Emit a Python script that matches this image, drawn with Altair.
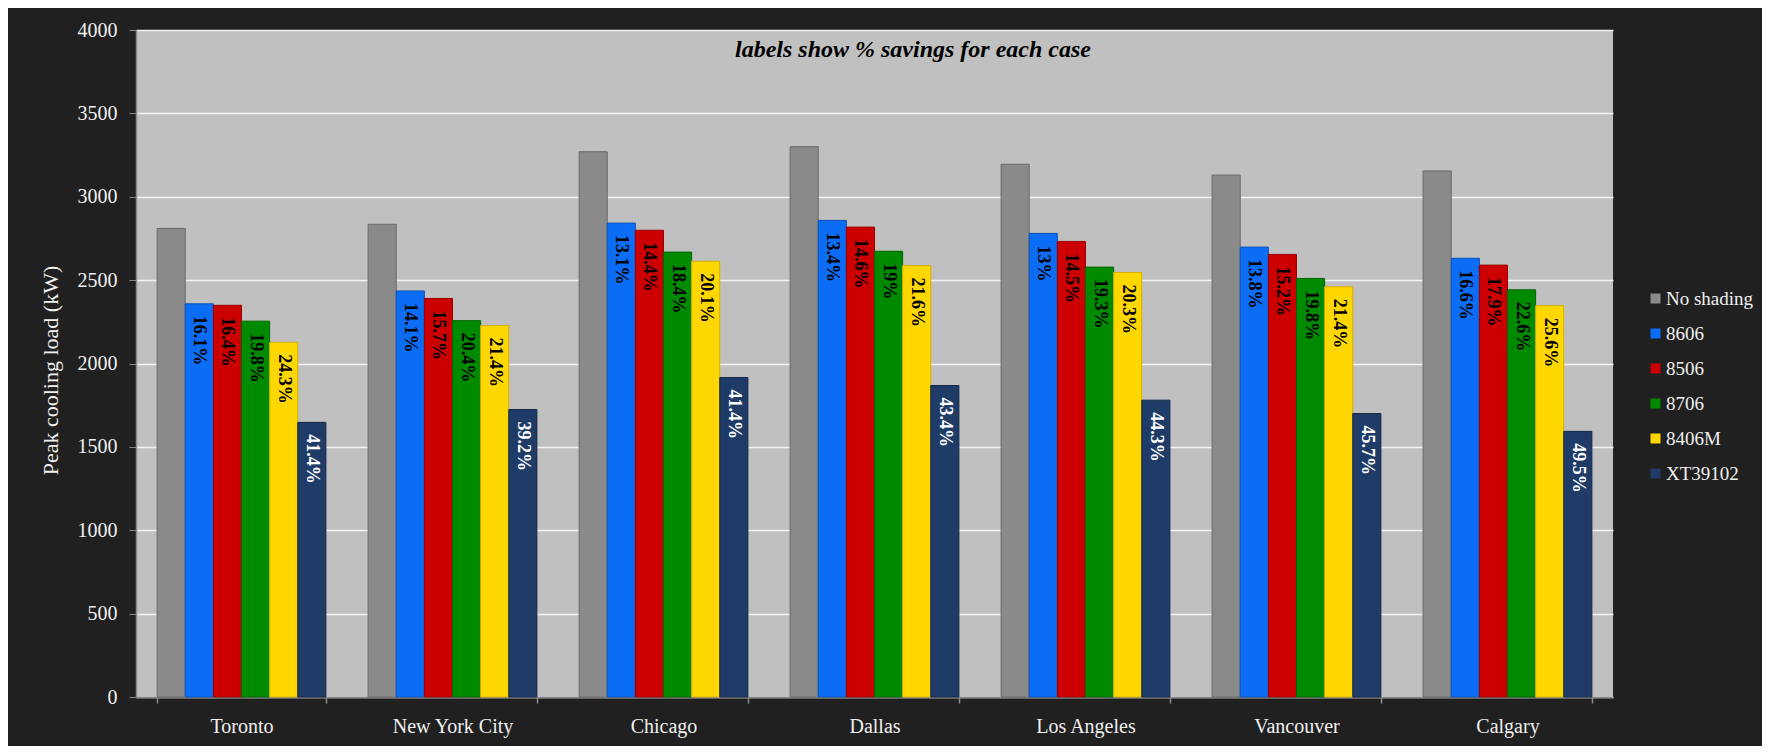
import altair as alt
import pandas as pd

cities = ["Toronto", "New York City", "Chicago", "Dallas", "Los Angeles", "Vancouver", "Calgary"]
series = ["No shading", "8606", "8506", "8706", "8406M", "XT39102"]

no_shading = [2810, 2835, 3270, 3300, 3195, 3130, 3155]
v8606 = [2358, 2435, 2842, 2858, 2780, 2698, 2631]
v8506 = [2349, 2390, 2799, 2818, 2732, 2654, 2590]
v8706 = [2254, 2257, 2668, 2673, 2578, 2510, 2442]
v8406m = [2127, 2228, 2613, 2587, 2546, 2460, 2347]
vxt39102 = [1647, 1724, 1916, 1868, 1780, 1700, 1593]

lab_none = ["", "", "", "", "", "", ""]
lab_8606 = ["16.1%", "14.1%", "13.1%", "13.4%", "13%", "13.8%", "16.6%"]
lab_8506 = ["16.4%", "15.7%", "14.4%", "14.6%", "14.5%", "15.2%", "17.9%"]
lab_8706 = ["19.8%", "20.4%", "18.4%", "19%", "19.3%", "19.8%", "22.6%"]
lab_8406m = ["24.3%", "21.4%", "20.1%", "21.6%", "20.3%", "21.4%", "25.6%"]
lab_xt39102 = ["41.4%", "39.2%", "41.4%", "43.4%", "44.3%", "45.7%", "49.5%"]

fill_colors = ["#8a8a8a", "#0b6df6", "#cc0000", "#008a00", "#ffd700", "#1f3c68"]
edge_colors = ["#6a6a6a", "#0a52b8", "#990000", "#006600", "#d4b000", "#15294a"]

note_text = ["labels show % savings for each case"]

value_lists = [no_shading, v8606, v8506, v8706, v8406m, vxt39102]
label_lists = [lab_none, lab_8606, lab_8506, lab_8706, lab_8406m, lab_xt39102]

rows = []
for s, vals, labs in zip(series, value_lists, label_lists):
    for c, v, l in zip(cities, vals, labs):
        rows.append({"city": c, "series": s, "load": v, "label": l})
df = pd.DataFrame(rows)
note_df = pd.DataFrame({"note": note_text})

FONT = "Liberation Serif"

x_enc = alt.X(
    "city:N",
    sort=cities,
    scale=alt.Scale(paddingInner=0.2, paddingOuter=0.1),
    axis=alt.Axis(
        title=None, labelAngle=0, tickBand="extent", labelFont=FONT,
        labelFontSize=20, labelColor="#f0f0f0", labelPadding=13,
        tickSize=6, tickColor="#8a8a8a", domainColor="#8a8a8a",
        domainWidth=1.5, tickWidth=1.5, grid=False,
    ),
)
xoff_enc = alt.XOffset("series:N", sort=series,
                       scale=alt.Scale(domain=series, paddingInner=0, paddingOuter=0))
y_enc = alt.Y(
    "load:Q",
    scale=alt.Scale(domain=[0, 4000], nice=False),
    axis=alt.Axis(
        title="Peak cooling load (kW)", values=[0, 500, 1000, 1500, 2000, 2500, 3000, 3500, 4000],
        format="d",
        labelFont=FONT, labelFontSize=20, labelColor="#f0f0f0", labelPadding=12,
        tickSize=7, tickColor="#8a8a8a", domainColor="#8a8a8a", domainWidth=1.5,
        gridColor="#f4f4f4", gridWidth=1.5,
        titleFont=FONT, titleFontSize=22, titleFontWeight="normal", titleColor="#f0f0f0",
        titleX=-86, titleY=340, titleAlign="center", titleBaseline="middle", titleAngle=-90,
    ),
)

bars = alt.Chart(df).mark_bar(strokeWidth=1).encode(
    x=x_enc,
    xOffset=xoff_enc,
    y=y_enc,
    color=alt.Color(
        "series:N", sort=series,
        scale=alt.Scale(domain=series, range=fill_colors),
        legend=alt.Legend(
            title=None, orient="none", legendX=1510, legendY=259,
            labelFont=FONT, labelFontSize=19, labelColor="#f0f0f0",
            symbolType="square", symbolSize=100, symbolStrokeWidth=0,
            rowPadding=15, padding=0, labelOffset=1,
        ),
    ),
    stroke=alt.Stroke("series:N", sort=series,
                      scale=alt.Scale(domain=series, range=edge_colors), legend=None),
)

labels = alt.Chart(df).transform_filter(
    alt.datum.series != "No shading"
).mark_text(
    angle=90, align="left", baseline="middle", dx=12,
    font=FONT, fontSize=18, fontWeight="bold",
).encode(
    x=alt.X("city:N", sort=cities),
    xOffset=alt.XOffset("series:N", sort=series),
    y=alt.Y("load:Q"),
    text="label:N",
    color=alt.condition(alt.datum.series == "XT39102", alt.value("#ffffff"), alt.value("#000000")),
)

note = alt.Chart(note_df).mark_text(
    align="center", baseline="middle", font=FONT, fontSize=24,
    fontWeight="bold", fontStyle="italic", color="#000000",
).encode(
    x=alt.value(777), y=alt.value(20), text="note:N",
)

chart = alt.layer(bars, labels, note).properties(
    width=1477, height=667,
    padding={"left": 128, "top": 22, "right": 149, "bottom": 49},
    autosize=alt.AutoSizeParams(type="none"),
).configure(
    background="#202020",
).configure_view(
    fill="#c0c0c0", stroke=None,
)

chart.save("out.html", embed_options={"renderer": "svg", "actions": False})
